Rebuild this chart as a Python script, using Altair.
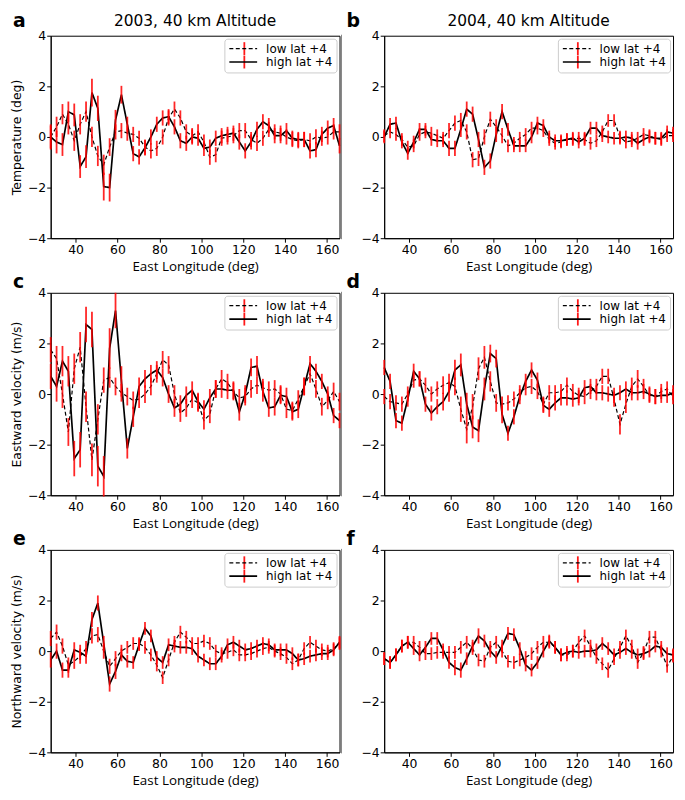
import altair as alt
import pandas as pd

LON = [28.125, 30.9375, 33.75, 36.5625, 39.375, 42.1875, 45.0, 47.8125, 50.625, 53.4375,
       56.25, 59.0625, 61.875, 64.6875, 67.5, 70.3125, 73.125, 75.9375, 78.75, 81.5625,
       84.375, 87.1875, 90.0, 92.8125, 95.625, 98.4375, 101.25, 104.0625, 106.875, 109.6875,
       112.5, 115.3125, 118.125, 120.9375, 123.75, 126.5625, 129.375, 132.1875, 135.0, 137.8125,
       140.625, 143.4375, 146.25, 149.0625, 151.875, 154.6875, 157.5, 160.3125, 163.125, 165.9375]

SERIES = ["low lat +4", "high lat +4"]
XTICKS = [40, 60, 80, 100, 120, 140, 160]
YTICKS = [-4, -2, 0, 2, 4]

# panel a : 2003 temperature
a_high = [0.0, -0.2, -0.3, 1.0, 0.87, -1.17, -0.78, 1.75, 1.13, -1.96, -2.0, 0.67, 1.67, 0.5, -0.66,
          -0.79, -0.43, 0.0, 0.5, 0.75, 0.8, 0.4, -0.15, -0.25, 0.0, -0.05, -0.45, -0.4, -0.05, 0.05,
          0.1, 0.15, -0.2, -0.55, -0.2, 0.3, 0.6, 0.45, 0.05, 0.05, 0.25, -0.05, -0.1, -0.1, -0.55,
          -0.5, 0.1, 0.35, 0.45, -0.35]
a_low = [0.0, 0.4, 0.9, 0.5, -0.15, 0.5, 1.0, 0.0, -0.75, -1.1, -0.4, 0.2, 0.25, 0.15, 0.1,
         -0.05, -0.4, -0.55, -0.45, 0.0, 0.75, 1.1, 0.75, 0.2, 0.05, 0.2, -0.2, -0.8, -0.7, -0.05,
         0.0, 0.05, 0.25, 0.25, -0.1, -0.25, -0.05, 0.3, 0.2, 0.15, 0.0, -0.1, -0.15, -0.1, -0.15,
         0.0, -0.05, 0.0, 0.2, 0.2]
a_high_err = [0.5, 0.45, 0.45, 0.4, 0.45, 0.45, 0.45, 0.55, 0.5, 0.55, 0.55, 0.4, 0.35, 0.3, 0.3,
              0.3, 0.3, 0.3, 0.3, 0.3, 0.3, 0.3, 0.3, 0.3, 0.3, 0.3, 0.3, 0.3, 0.3, 0.3,
              0.3, 0.3, 0.3, 0.3, 0.3, 0.3, 0.3, 0.3, 0.3, 0.3, 0.3, 0.3, 0.3, 0.3, 0.3,
              0.3, 0.3, 0.3, 0.3, 0.3]
a_low_err = [0.45, 0.4, 0.4, 0.4, 0.4, 0.4, 0.4, 0.4, 0.4, 0.4, 0.35, 0.3, 0.3, 0.3, 0.3,
             0.3, 0.3, 0.3, 0.3, 0.3, 0.3, 0.3, 0.3, 0.3, 0.3, 0.3, 0.3, 0.3, 0.3, 0.3,
             0.3, 0.3, 0.3, 0.3, 0.3, 0.3, 0.3, 0.3, 0.3, 0.3, 0.3, 0.3, 0.3, 0.3, 0.3,
             0.3, 0.3, 0.3, 0.3, 0.3]

# panel b : 2004 temperature
b_high = [0.0, 0.5, 0.55, -0.2, -0.65, -0.2, 0.3, 0.3, -0.1, -0.15, -0.15, -0.45, -0.45, 0.3, 1.1,
          0.9, -0.1, -1.2, -0.95, 0.1, 1.0, 0.3, -0.35, -0.35, -0.35, 0.0, 0.55, 0.45, 0.0, -0.15,
          -0.15, -0.1, -0.05, -0.2, -0.05, 0.35, 0.35, 0.05, 0.0, -0.05, -0.05, 0.0, -0.05, -0.25, -0.1,
          0.0, -0.05, -0.05, 0.2, 0.15]
b_low = [0.05, 0.2, 0.1, -0.1, -0.4, -0.35, 0.1, 0.2, 0.15, 0.05, -0.05, 0.25, 0.55, 0.65, 0.2,
         -0.9, -0.85, 0.0, 0.7, 0.4, 0.05, -0.35, -0.25, -0.05, 0.1, 0.35, 0.35, 0.25, -0.1, -0.25,
         -0.2, -0.1, -0.1, -0.05, -0.1, -0.25, -0.15, 0.2, 0.65, 0.65, 0.0, -0.2, -0.15, -0.05, 0.1,
         0.05, -0.05, -0.1, 0.05, 0.05]
b_high_err = [0.25, 0.25, 0.25, 0.25, 0.25, 0.25, 0.25, 0.25, 0.25, 0.25, 0.25, 0.3, 0.3, 0.3, 0.3,
              0.3, 0.3, 0.3, 0.3, 0.3, 0.3, 0.25, 0.25, 0.25, 0.25, 0.25, 0.25, 0.25, 0.25, 0.25,
              0.25, 0.25, 0.25, 0.25, 0.25, 0.25, 0.25, 0.25, 0.25, 0.25, 0.25, 0.25, 0.25, 0.25, 0.25,
              0.25, 0.25, 0.25, 0.25, 0.25]
b_low_err = [0.25, 0.25, 0.25, 0.25, 0.25, 0.25, 0.25, 0.25, 0.25, 0.25, 0.25, 0.3, 0.3, 0.3, 0.3,
             0.3, 0.3, 0.3, 0.3, 0.3, 0.3, 0.25, 0.25, 0.25, 0.25, 0.25, 0.25, 0.25, 0.25, 0.25,
             0.25, 0.25, 0.25, 0.25, 0.25, 0.25, 0.25, 0.25, 0.25, 0.25, 0.25, 0.25, 0.25, 0.25, 0.25,
             0.25, 0.25, 0.25, 0.25, 0.25]

# panel c : 2003 eastward velocity
c_high = [0.7, 0.3, 1.3, 0.9, -2.55, -2.2, 2.75, 2.55, -2.85, -3.25, 1.8, 3.3, 0.5, -2.15, -0.9,
          0.3, 0.6, 0.8, 0.95, 0.65, 0.0, -0.55, -0.4, -0.05, 0.15, -0.3, -0.6, -0.15, 0.2, 0.2,
          0.15, 0.15, -0.7, 0.0, 1.05, 1.1, 0.1, -0.55, -0.5, -0.05, -0.1, -0.7, -0.6, 0.3, 1.2,
          0.9, 0.5, 0.0, -0.85, -1.05]
c_low = [1.75, 1.4, 0.0, -1.5, 1.0, 1.85, -0.5, -2.6, -1.0, 0.55, 0.65, 0.3, 0.05, -0.1, -0.25,
         -0.2, 0.0, 0.3, 0.8, 1.35, 1.15, 0.0, -0.75, -0.55, -0.2, -0.35, -1.05, -0.8, 0.2, 0.6,
         0.45, 0.1, -0.15, -0.1, 0.2, 0.35, 0.25, 0.15, 0.2, 0.0, -0.6, -0.65, -0.2, 0.3, 0.8,
         0.2, -0.5, -0.25, 0.1, -0.3]
c_high_err = [0.5, 0.6, 0.6, 0.6, 0.7, 0.7, 0.7, 0.7, 0.8, 0.8, 0.8, 0.7, 0.6, 0.4, 0.4,
              0.35, 0.35, 0.35, 0.35, 0.35, 0.35, 0.35, 0.35, 0.35, 0.35, 0.35, 0.35, 0.35, 0.35, 0.35,
              0.35, 0.35, 0.35, 0.35, 0.35, 0.4, 0.4, 0.35, 0.35, 0.35, 0.35, 0.35, 0.35, 0.35, 0.3,
              0.3, 0.3, 0.3, 0.3, 0.3]
c_low_err = [0.5, 0.5, 0.55, 0.55, 0.6, 0.6, 0.6, 0.65, 0.6, 0.5, 0.4, 0.35, 0.35, 0.35, 0.35,
             0.35, 0.35, 0.35, 0.35, 0.35, 0.35, 0.35, 0.35, 0.35, 0.35, 0.35, 0.35, 0.35, 0.35, 0.35,
             0.35, 0.35, 0.35, 0.35, 0.35, 0.35, 0.35, 0.35, 0.35, 0.35, 0.35, 0.35, 0.35, 0.35, 0.35,
             0.35, 0.35, 0.35, 0.35, 0.35]

# panel d : 2004 eastward velocity
d_high = [1.05, 0.5, -1.05, -1.15, -0.2, 0.9, 0.6, -0.4, -0.75, -0.5, -0.3, 0.1, 0.95, 1.15, -0.4,
          -1.3, -1.45, 0.2, 1.6, 1.4, -0.8, -1.55, -0.9, -0.1, 0.5, 0.95, 0.55, -0.45, -0.6, -0.35,
          -0.15, -0.15, -0.2, -0.15, 0.25, 0.3, 0.05, 0.05, 0.0, -0.05, 0.05, 0.2, 0.05, 0.05, 0.1,
          0.0, -0.1, -0.05, -0.05, 0.05]
d_low = [-0.1, -0.3, -0.35, -0.4, 0.0, 0.55, 0.6, 0.35, 0.0, 0.2, 0.35, 0.45, 0.3, -0.6, -1.4,
         -0.5, 1.0, 1.45, 0.5, -0.35, -0.4, -0.35, -0.2, 0.05, 0.25, 0.3, 0.1, -0.4, 0.05, 0.05,
         0.1, 0.35, 0.1, -0.05, -0.1, 0.1, 0.3, 0.7, 0.7, -0.2, -1.2, -0.4, 0.3, 0.6, 0.3,
         -0.05, -0.1, 0.1, 0.2, -0.1]
d_high_err = [0.3, 0.3, 0.3, 0.3, 0.3, 0.3, 0.3, 0.3, 0.3, 0.3, 0.35, 0.4, 0.4, 0.45, 0.45,
              0.45, 0.45, 0.45, 0.35, 0.35, 0.35, 0.3, 0.3, 0.3, 0.3, 0.3, 0.3, 0.3, 0.3, 0.3,
              0.3, 0.3, 0.3, 0.3, 0.3, 0.3, 0.3, 0.3, 0.3, 0.3, 0.3, 0.3, 0.3, 0.3, 0.3,
              0.3, 0.3, 0.3, 0.3, 0.3]
d_low_err = [0.3, 0.3, 0.3, 0.3, 0.3, 0.3, 0.3, 0.3, 0.3, 0.3, 0.35, 0.35, 0.35, 0.5, 0.55,
             0.5, 0.45, 0.45, 0.4, 0.35, 0.3, 0.3, 0.3, 0.3, 0.3, 0.3, 0.3, 0.3, 0.3, 0.3,
             0.3, 0.3, 0.3, 0.3, 0.3, 0.3, 0.3, 0.3, 0.3, 0.3, 0.4, 0.35, 0.35, 0.35, 0.3,
             0.3, 0.3, 0.3, 0.3, 0.3]

# panel e : 2003 northward velocity
e_high = [-0.35, 0.0, -0.75, -0.75, 0.05, -0.05, -0.2, 1.25, 1.9, 0.3, -1.3, -0.8, -0.15, -0.4, -0.45,
          0.25, 0.9, 0.6, -0.25, -0.45, 0.25, 0.2, 0.15, 0.15, 0.1, -0.2, -0.35, -0.5, -0.5, -0.2,
          0.25, 0.35, 0.2, 0.05, 0.1, 0.2, 0.3, 0.25, 0.05, 0.05, 0.05, -0.1, -0.35, -0.3, -0.2,
          -0.15, -0.1, -0.1, 0.05, 0.35]
e_low = [0.5, 0.75, 0.2, -0.55, -0.4, -0.2, 0.1, 0.6, 0.65, 0.0, -0.6, -0.3, 0.0, 0.15, 0.3,
         0.3, 0.15, -0.15, -0.55, -1.05, -0.35, 0.35, 0.75, 0.55, 0.3, 0.3, 0.4, 0.3, 0.0, -0.1,
         -0.05, 0.05, -0.15, -0.15, -0.1, 0.0, 0.1, 0.15, 0.0, -0.1, -0.25, -0.5, -0.35, 0.1, 0.35,
         0.2, 0.05, 0.0, 0.1, 0.3]
e_high_err = [0.3, 0.3, 0.3, 0.3, 0.3, 0.3, 0.3, 0.3, 0.3, 0.3, 0.3, 0.3, 0.25, 0.25, 0.25,
              0.25, 0.25, 0.25, 0.25, 0.25, 0.25, 0.25, 0.25, 0.25, 0.25, 0.25, 0.25, 0.25, 0.25, 0.25,
              0.25, 0.25, 0.25, 0.25, 0.25, 0.25, 0.25, 0.25, 0.25, 0.25, 0.25, 0.25, 0.25, 0.25, 0.25,
              0.25, 0.25, 0.25, 0.25, 0.25]
e_low_err = [0.3, 0.3, 0.3, 0.3, 0.3, 0.3, 0.3, 0.3, 0.3, 0.3, 0.3, 0.3, 0.25, 0.25, 0.25,
             0.25, 0.25, 0.25, 0.25, 0.25, 0.25, 0.25, 0.25, 0.25, 0.25, 0.25, 0.25, 0.25, 0.25, 0.25,
             0.25, 0.25, 0.25, 0.25, 0.25, 0.25, 0.25, 0.25, 0.25, 0.25, 0.25, 0.25, 0.25, 0.25, 0.25,
             0.25, 0.25, 0.25, 0.25, 0.25]

# panel f : 2004 northward velocity
f_high = [-0.3, -0.45, -0.15, 0.2, 0.35, 0.1, -0.15, 0.15, 0.5, 0.5, 0.05, -0.45, -0.65, -0.75, -0.3,
          0.2, 0.6, 0.4, 0.0, -0.25, 0.2, 0.7, 0.65, 0.1, -0.55, -0.75, -0.45, 0.0, 0.4, 0.15,
          -0.15, -0.05, 0.0, -0.05, 0.0, 0.0, 0.05, 0.3, 0.1, -0.15, -0.05, 0.1, -0.05, -0.15, -0.1,
          0.0, 0.2, 0.15, -0.1, -0.15]
f_low = [-0.3, -0.45, -0.15, 0.2, 0.35, 0.35, 0.15, -0.1, -0.1, -0.05, -0.05, -0.05, -0.05, 0.15, 0.35,
         0.1, -0.35, -0.4, 0.15, 0.35, 0.0, -0.4, -0.45, -0.35, -0.25, -0.1, 0.15, 0.35, 0.35, 0.15,
         -0.15, -0.15, 0.0, 0.35, 0.6, 0.2, -0.25, -0.5, -0.75, -0.3, 0.15, 0.6, 0.2, -0.45, -0.05,
         0.55, 0.55, 0.0, -0.6, -0.2]
f_high_err = [0.25, 0.25, 0.25, 0.25, 0.25, 0.25, 0.25, 0.25, 0.25, 0.25, 0.25, 0.25, 0.3, 0.3, 0.25,
              0.25, 0.3, 0.25, 0.25, 0.25, 0.25, 0.25, 0.25, 0.25, 0.25, 0.25, 0.25, 0.25, 0.25, 0.25,
              0.25, 0.25, 0.25, 0.25, 0.25, 0.25, 0.25, 0.25, 0.25, 0.25, 0.25, 0.25, 0.25, 0.25, 0.25,
              0.25, 0.25, 0.25, 0.25, 0.25]
f_low_err = [0.25, 0.25, 0.25, 0.25, 0.25, 0.25, 0.25, 0.25, 0.25, 0.25, 0.25, 0.25, 0.25, 0.25, 0.25,
             0.25, 0.25, 0.25, 0.25, 0.25, 0.25, 0.25, 0.25, 0.25, 0.25, 0.25, 0.25, 0.25, 0.25, 0.25,
             0.25, 0.25, 0.25, 0.25, 0.25, 0.25, 0.25, 0.25, 0.3, 0.25, 0.25, 0.25, 0.25, 0.25, 0.25,
             0.25, 0.25, 0.25, 0.25, 0.25]

W, H = 291, 204
RED = "#ff0000"

# legend layout (pixels inside each panel)
LEG_OFF, LEG_PAD, LEG_CLIP, LEG_ROWPAD, LEG_SYM, LEG_LABOFF = 3, 4, 12, 1.5, 28, 8
LEG_LABW = 66.9  # width of "high lat +4" in DejaVu Sans 12px
LEG_W = 2 * LEG_PAD + LEG_SYM + LEG_LABOFF + LEG_LABW
LEG_H = 2 * LEG_PAD + 2 * LEG_CLIP + LEG_ROWPAD


def panel(high, low, high_err, low_err, ytitle, letter, header=None, right=False):
    rows = []
    for name, vals, errs in ((SERIES[0], low, low_err), (SERIES[1], high, high_err)):
        for x, v, e in zip(LON, vals, errs):
            rows.append({"lon": x, "val": v, "lo": v - e, "hi": v + e, "series": name})
    df = pd.DataFrame(rows)

    xs = alt.Scale(domain=[LON[0], LON[-1]], nice=False, zero=False)
    ys = alt.Scale(domain=[-4, 4], nice=False, zero=False)
    xax = alt.Axis(title="East Longitude (deg)", values=XTICKS)
    if ytitle:
        yax = alt.Axis(title=ytitle, values=YTICKS)
    else:
        yax = alt.Axis(title=None, values=YTICKS)

    base = alt.Chart(df)
    lines = base.mark_line(color="black").encode(
        x=alt.X("lon:Q", scale=xs, axis=xax),
        y=alt.Y("val:Q", scale=ys, axis=yax),
        strokeDash=alt.StrokeDash(
            "series:N",
            scale=alt.Scale(domain=SERIES, range=[[4, 2.5], [1, 0]]),
            legend=alt.Legend(title=None, orient="top-right"),
        ),
        strokeWidth=alt.StrokeWidth(
            "series:N", scale=alt.Scale(domain=SERIES, range=[1.2, 1.7]), legend=None
        ),
        order="lon:Q",
    )
    bars = base.mark_rule(color=RED, strokeWidth=1.8, opacity=0.85).encode(
        x=alt.X("lon:Q", scale=xs, axis=xax),
        y=alt.Y("lo:Q", scale=ys, axis=yax),
        y2="hi:Q",
    )
    layers = [lines, bars]

    # white backing of the legend box and the red error-bar marks of its symbols
    one = pd.DataFrame({"t": [0]})
    bx = W - LEG_OFF - LEG_W
    layers.append(alt.Chart(one).mark_rect(color="white").encode(
        x=alt.value(bx), x2=alt.value(W - LEG_OFF),
        y=alt.value(LEG_OFF), y2=alt.value(LEG_OFF + LEG_H)))
    sx = bx + LEG_PAD + LEG_SYM / 2
    for r in range(2):
        cy = LEG_OFF + LEG_PAD + LEG_CLIP / 2 + r * (LEG_CLIP + LEG_ROWPAD)
        layers.append(alt.Chart(one).mark_rule(color=RED, strokeWidth=1.8, opacity=0.9).encode(
            x=alt.value(sx), y=alt.value(cy - 6.5), y2=alt.value(cy + 6.5)))

    ly = -15 if header else -11
    lt = alt.Chart(pd.DataFrame({"t": [letter]})).mark_text(
        align="left", baseline="middle", fontSize=19, fontWeight="bold",
        font="DejaVu Sans", color="black"
    ).encode(text="t:N", x=alt.value(-38), y=alt.value(ly))
    layers.append(lt)
    if header:
        ht = alt.Chart(pd.DataFrame({"t": [header]})).mark_text(
            align="center", baseline="middle", fontSize=15.5, font="DejaVu Sans", color="black"
        ).encode(text="t:N", x=alt.value(W / 2), y=alt.value(-15))
        layers.append(ht)
    if right:
        sep = alt.Chart(one).mark_rule(color="#888888", strokeWidth=1).encode(
            x=alt.value(-43), y=alt.value(-1), y2=alt.value(H + 1)
        )
        layers.append(sep)

    return alt.layer(*layers).properties(width=W, height=H)


pa = panel(a_high, a_low, a_high_err, a_low_err, "Temperature (deg)", "a", "2003, 40 km Altitude")
pb = panel(b_high, b_low, b_high_err, b_low_err, None, "b", "2004, 40 km Altitude", right=True)
pc = panel(c_high, c_low, c_high_err, c_low_err, "Eastward velocity (m/s)", "c")
pd_ = panel(d_high, d_low, d_high_err, d_low_err, None, "d", right=True)
pe = panel(e_high, e_low, e_high_err, e_low_err, "Northward velocity (m/s)", "e")
pf = panel(f_high, f_low, f_high_err, f_low_err, None, "f", right=True)

chart = alt.concat(
    pa, pb, pc, pd_, pe, pf, columns=2, spacing={"row": 55, "column": 45}, bounds="flush"
).resolve_scale(
    strokeDash="independent", strokeWidth="independent"
).resolve_legend(strokeDash="independent").properties(
    padding={"left": 2, "top": 0, "right": 0, "bottom": 0}
).configure_view(
    stroke="black", strokeWidth=1
).configure_axis(
    grid=False,
    domainColor="black",
    tickColor="black",
    tickSize=4,
    labelColor="black",
    labelFont="DejaVu Sans",
    labelFontSize=12.5,
    labelPadding=1,
    titleColor="black",
    titleFontWeight="normal",
).configure_axisX(
    titleFont="Open Sans",
    titleFontSize=13.5,
    titlePadding=4,
).configure_axisY(
    titleFont="DejaVu Sans",
    titleFontSize=12.5,
    titlePadding=4,
).configure_legend(
    labelFont="DejaVu Sans",
    labelFontSize=12,
    labelColor="black",
    symbolType="stroke",
    symbolSize=LEG_SYM * LEG_SYM,
    symbolStrokeWidth=1.6,
    symbolStrokeColor="black",
    strokeColor="#cccccc",
    cornerRadius=3,
    padding=LEG_PAD,
    rowPadding=LEG_ROWPAD,
    clipHeight=LEG_CLIP,
    offset=LEG_OFF,
    labelOffset=LEG_LABOFF,
)

chart.save("out.html", embed_options={"renderer": "svg", "actions": False})
